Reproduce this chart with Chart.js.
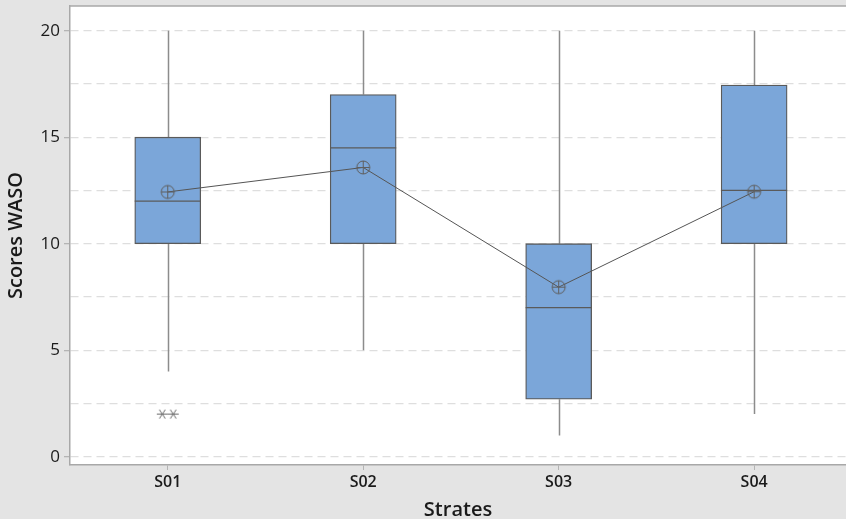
<!DOCTYPE html>
<html>
<head>
<meta charset="utf-8">
<script src="https://cdn.jsdelivr.net/npm/chart.js@4.4.1/dist/chart.umd.min.js"></script>
<style>
  html, body { margin: 0; padding: 0; background: #e4e4e4; }
  #wrap { width: 846px; height: 519px; }
</style>
</head>
<body>
<div id="wrap"><canvas id="boxChart"></canvas></div>
<script>
// Box plot data
const categories = ["S01", "S02", "S03", "S04"];
const whiskerLow = [4, 5, 1, 2];
const q1Values = [10, 10, 2.7, 10];
const medianValues = [12, 14.5, 7, 12.5];
const q3Values = [15, 17, 10, 17.45];
const whiskerHigh = [20, 20, 20, 20];
const meanValues = [12.43, 13.58, 7.96, 12.44];
const outliers = [[2, 2], [], [], []];
const yTickLabels = [0, 5, 10, 15, 20];
const yGridLines = [0, 2.5, 5, 7.5, 10, 12.5, 15, 17.5, 20];

const BOX_FILL = "#7ba6d9";
const BOX_EDGE = "#5a5a5a";
const WHISKER = "#8c8c8c";

function makeSymbol(kind) {
  const c = document.createElement("canvas");
  c.width = 17; c.height = 17;
  const g = c.getContext("2d");
  g.strokeStyle = "#5f5f5f";
  g.lineWidth = 1;
  if (kind === "mean") {
    g.beginPath(); g.arc(8.5, 8.5, 6.5, 0, Math.PI * 2); g.stroke();
    g.beginPath(); g.moveTo(2, 8.5); g.lineTo(15, 8.5);
    g.moveTo(8.5, 2); g.lineTo(8.5, 15); g.stroke();
  } else {
    g.strokeStyle = "#6a6a6a";
    g.beginPath();
    g.moveTo(3, 8.5); g.lineTo(14, 8.5);
    g.moveTo(5.5, 4); g.lineTo(11.5, 13);
    g.moveTo(11.5, 4); g.lineTo(5.5, 13);
    g.stroke();
  }
  return c;
}

// plugin: background, frame, whiskers, medians
const boxPlugin = {
  id: "boxExtras",
  beforeDraw(chart) {
    const { ctx, chartArea: a } = chart;
    ctx.save();
    ctx.fillStyle = "#e4e4e4";
    ctx.fillRect(0, 0, chart.width, chart.height);
    ctx.fillStyle = "#ffffff";
    ctx.fillRect(a.left, a.top, a.right - a.left, a.bottom - a.top);
    ctx.restore();
  },
  beforeDatasetsDraw(chart) {
    const { ctx, scales: { x, y } } = chart;
    ctx.save();
    ctx.strokeStyle = WHISKER;
    ctx.lineWidth = 1.5;
    categories.forEach((c, i) => {
      const px = Math.round(x.getPixelForValue(i + 1)) + 0.5;
      ctx.beginPath();
      ctx.moveTo(px, y.getPixelForValue(whiskerHigh[i]));
      ctx.lineTo(px, y.getPixelForValue(q3Values[i]));
      ctx.moveTo(px, y.getPixelForValue(q1Values[i]));
      ctx.lineTo(px, y.getPixelForValue(whiskerLow[i]));
      ctx.stroke();
    });
    ctx.restore();
  },
  afterDatasetDraw(chart, args) {
    if (args.meta.type !== "bar") return;
    const { ctx, scales: { y } } = chart;
    ctx.save();
    ctx.strokeStyle = BOX_EDGE;
    ctx.lineWidth = 1.3;
    args.meta.data.forEach((bar, i) => {
      const py = y.getPixelForValue(medianValues[i]);
      ctx.beginPath();
      ctx.moveTo(bar.x - bar.width / 2, py);
      ctx.lineTo(bar.x + bar.width / 2, py);
      ctx.stroke();
    });
    ctx.restore();
  },
  afterDraw(chart) {
    const { ctx, chartArea: a } = chart;
    ctx.save();
    ctx.strokeStyle = "#a8a8a8";
    ctx.lineWidth = 1.5;
    ctx.beginPath();
    ctx.moveTo(a.left, a.top);
    ctx.lineTo(a.right, a.top);
    ctx.stroke();
    ctx.restore();
  }
};

const boxData = categories.map((c, i) => ({ x: i + 1, y: [q1Values[i], q3Values[i]] }));
const meanData = categories.map((c, i) => ({ x: i + 1, y: meanValues[i] }));
const outlierData = [];
outliers.forEach((list, i) => {
  list.forEach((v, j) => {
    outlierData.push({ x: i + 1 + (j - (list.length - 1) / 2) * 0.056, y: v });
  });
});

const ctx = document.getElementById("boxChart").getContext("2d");
new Chart(ctx, {
  data: {
    datasets: [
      {
        type: "bar",
        data: boxData,
        backgroundColor: BOX_FILL,
        borderColor: BOX_EDGE,
        borderWidth: 1.3,
        borderSkipped: false,
        barThickness: 66,
        order: 3
      },
      {
        type: "line",
        data: meanData,
        borderColor: "#555555",
        borderWidth: 1,
        pointStyle: makeSymbol("mean"),
        pointRadius: 0.5,
        pointBorderWidth: 0,
        order: 1
      },
      {
        type: "scatter",
        data: outlierData,
        pointStyle: makeSymbol("star"),
        pointRadius: 0.5,
        pointBorderWidth: 0,
        order: 2
      }
    ]
  },
  options: {
    responsive: true,
    maintainAspectRatio: false,
    animation: false,
    layout: { autoPadding: false, padding: { top: 6, right: 0, left: 0, bottom: 0 } },
    plugins: { legend: { display: false }, tooltip: { enabled: false } },
    scales: {
      x: {
        type: "linear",
        min: 0.5,
        max: 4.47,
        offset: false,
        afterBuildTicks: (s) => { s.ticks = categories.map((c, i) => ({ value: i + 1 })); },
        afterFit: (s) => { s.height = 54; s.paddingLeft = 0; s.paddingRight = 0; },
        border: { color: "#a8a8a8", width: 1.5 },
        grid: { offset: false, drawOnChartArea: false, tickLength: 5, color: "#b4b4b4" },
        ticks: {
          padding: 3,
          color: "#1a1a1a",
          font: { family: "'Open Sans'", size: 16, weight: "600" },
          callback: (v) => categories[v - 1]
        },
        title: {
          display: true,
          text: "Strates",
          color: "#1a1a1a",
          font: { family: "'Open Sans'", size: 20, weight: "600", lineHeight: 0.9 },
          padding: { top: 0, bottom: 0 }
        }
      },
      y: {
        min: -0.39,
        max: 21.16,
        afterBuildTicks: (s) => { s.ticks = yGridLines.map((v) => ({ value: v })); },
        afterFit: (s) => { s.width = 70; s.paddingTop = 0; s.paddingBottom = 0; },
        border: { color: "#a8a8a8", width: 1.5, dash: [8, 5] },
        grid: {
          color: "#dedede",
          lineWidth: 1.3,
          tickLength: 6,
          tickBorderDash: [],
          tickColor: (c) => (c.tick && yTickLabels.includes(c.tick.value) ? "#b4b4b4" : "rgba(0,0,0,0)")
        },
        ticks: {
          padding: 4,
          color: "#1a1a1a",
          font: { family: "'Open Sans'", size: 17 },
          callback: (v) => (yTickLabels.includes(v) ? String(v) : "")
        },
        title: {
          display: true,
          text: "Scores WASO",
          color: "#1a1a1a",
          font: { family: "'Open Sans'", size: 20, weight: "600" },
          padding: { top: 4, bottom: 0 }
        }
      }
    }
  },
  plugins: [boxPlugin]
});
</script>
</body>
</html>
